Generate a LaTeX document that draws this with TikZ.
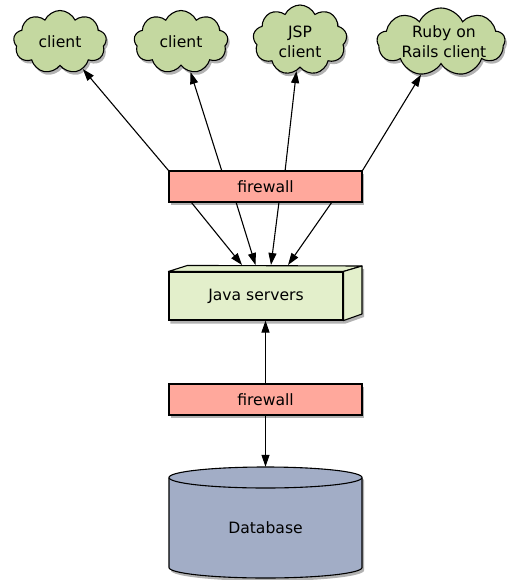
\documentclass[tikz,border=0pt]{standalone}
\usepackage{fontspec}
\setmainfont{DejaVu Sans}
\usetikzlibrary{shapes.symbols,arrows.meta,shadows}
\definecolor{cloudg}{HTML}{C4D8A0}
\definecolor{fwred}{HTML}{FFA89C}
\definecolor{javag}{HTML}{E3EFCB}
\definecolor{dbblue}{HTML}{A2ADC6}
\tikzset{
  shd/.style={drop shadow={shadow xshift=2pt,shadow yshift=-3pt,fill=black,opacity=0.3}},
  txt/.style={font=\fontsize{15.6}{20}\selectfont, align=center},
  cl/.style={cloud, cloud puffs=9, cloud puff arc=130, draw, line width=1.1pt, fill=cloudg, shd, inner sep=0pt},
  fwbox/.style={draw, line width=1.1pt, fill=fwred, shd, txt, minimum width=193pt, minimum height=31pt, inner sep=0pt},
  con/.style={line width=1.1pt, -{Triangle[length=12pt,width=8pt]}},
}
\begin{document}
\begin{tikzpicture}[x=1pt,y=-1pt]
\useasboundingbox (0,0) rectangle (507,580);
% clouds
\node[cl, minimum width=93pt, minimum height=63pt] (c1) at (60,42) {};
\node[cl, minimum width=94pt, minimum height=63pt] (c2) at (181,42) {};
\node[cl, minimum width=94pt, minimum height=70pt] (c3) at (300,40) {};
\node[cl, minimum width=128pt, minimum height=68pt] (c4) at (441,42) {};
\node[txt] (t1) at (c1) {client};
\node[txt] (t2) at (c2) {client};
\node[txt] (t3) at (300,42) {JSP\\client};
\node[txt] (t4) at (444,42) {Ruby on\\Rails client};
% firewalls
\node[fwbox] (fw1) at (265.5,186.5) {firewall};
\node[fwbox] (fw2) at (265.5,399.5) {firewall};
% java servers box
\node[line width=1.1pt, fill=javag, txt, minimum width=174pt, minimum height=48pt, inner sep=0pt] (jsb) at (256,296) {};
\fill[javag, shd] (jsb.north west) -- ++(19,-6) -- (362,266) -- (362,314) -- (jsb.south east) -- (jsb.south west) -- cycle;
\node[draw, line width=1.1pt, fill=javag, txt, minimum width=174pt, minimum height=48pt, inner sep=0pt] (js) at (256,296) {Java servers};
\draw[line width=1.1pt, line join=round, fill=javag] (js.north west) -- ++(19,-6) -- (362,266) -- (js.north east) -- cycle;
\draw[line width=1.1pt, line join=round, fill=javag] (js.north east) -- (362,266) -- (362,314) -- (js.south east) -- cycle;
% database
\fill[dbblue, shd] (169,477.5) -- (169,567.5) arc[start angle=180,end angle=0,x radius=96.5,y radius=10.5] -- (362,477.5) arc[start angle=0,end angle=-180,x radius=96.5,y radius=10.5] -- cycle;
\draw[line width=1.1pt, fill=dbblue] (169,477.5) -- (169,567.5) arc[start angle=180,end angle=0,x radius=96.5,y radius=10.5] -- (362,477.5);
\draw[line width=1.1pt, fill=dbblue] (265.5,477.5) ellipse[x radius=96.5,y radius=10.5];
\node[minimum width=193pt, minimum height=111pt, inner sep=0pt] (db) at (265.5,522.5) {};
\node[txt] (dbl) at (265.5,528) {Database};
% connectors: firewall to clouds
\draw[con] (fw1.north west) -- (c1);
\coordinate (ft2) at (222,171.5);
\coordinate (ft3) at (285,171.5);
\draw[con] (ft2) -- (c2);
\draw[con] (ft3) -- (c3);
\draw[con] (fw1.north east) -- (c4);
% firewall to java servers
\coordinate (fs1) at (191,202);
\coordinate (fs2) at (236,202);
\coordinate (fs3) at (279,202);
\coordinate (fs4) at (332,202);
\coordinate (jt1) at (242,265);
\coordinate (jt2) at (255.5,265);
\coordinate (jt3) at (271,265);
\coordinate (jt4) at (288,265);
\draw[con] (fs1) -- (jt1);
\draw[con] (fs2) -- (jt2);
\draw[con] (fs3) -- (jt3);
\draw[con] (fs4) -- (jt4);
% lower firewall
\draw[con] (fw2.north) -- (js.south -| fw2.north);
\draw[con] (fw2.south) -- (db.north);
\end{tikzpicture}
\end{document}
